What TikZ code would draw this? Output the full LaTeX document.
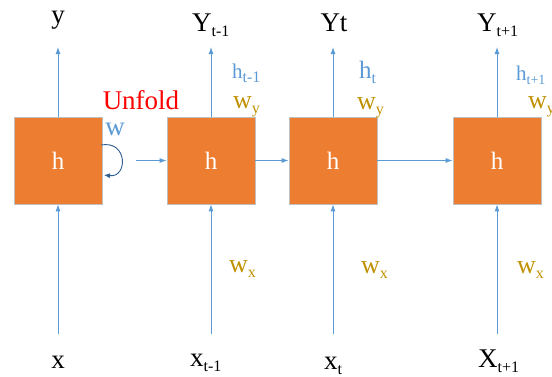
\documentclass[tikz,border=0pt]{standalone}
\usepackage{fontspec}
\setmainfont{Liberation Serif}
\usetikzlibrary{arrows.meta}
\definecolor{boxor}{HTML}{ED7D31}
\definecolor{arrb}{HTML}{5B9BD5}
\definecolor{wgold}{HTML}{BF9000}
\definecolor{loopb}{HTML}{2F5F8F}
\newcommand{\mysub}[2][16]{\raisebox{-0.45ex}{\fontsize{#1}{#1}\selectfont #2}}
\begin{document}
\begin{tikzpicture}[x=1pt,y=-1pt,
  cell/.style={draw=black!25,line width=0.8pt,fill=boxor,minimum width=88pt,minimum height=87pt,inner sep=0pt,text=white,font=\fontsize{25}{25}\selectfont},
  arr/.style={draw=arrb,line width=0.9pt,-{Latex[length=7pt,width=5pt]}},
  lbl/.style={inner sep=0pt,font=\fontsize{27}{27}\selectfont},
  hl/.style={lbl,text=arrb,font=\fontsize{21}{21}\selectfont},
  wl/.style={lbl,text=wgold,font=\fontsize{26}{26}\selectfont}]
\useasboundingbox (0,0) rectangle (552,376);
% cells
\node[cell] (b1) at (58,160.5) {h};
\node[cell] (b2) at (211,160.5) {h};
\node[cell] (b3) at (333,160.5) {h};
\node[cell] (b4) at (497,160.5) {h};
% top outputs
\coordinate (o1) at (58,47);
\coordinate (o2) at (211,47);
\coordinate (o3) at (333,47);
\coordinate (o4) at (497,47);
\draw[arr] (b1.north) -- (o1);
\draw[arr] (b2.north) -- (o2);
\draw[arr] (b3.north) -- (o3);
\draw[arr] (b4.north) -- (o4);
% bottom inputs
\coordinate (i1) at (58,334);
\coordinate (i2) at (211,334);
\coordinate (i3) at (333,334);
\coordinate (i4) at (497,334);
\draw[arr] (i1) -- (b1.south);
\draw[arr] (i2) -- (b2.south);
\draw[arr] (i3) -- (b3.south);
\draw[arr] (i4) -- (b4.south);
% horizontal
\coordinate (u0) at (136,160.5);
\draw[arr] (u0) -- (b2.west);
\draw[arr] (b2.east) -- (b3.west);
\draw[arr] (b3.east) -- (b4.west);
% self loop
\coordinate (l0) at (101,145);
\coordinate (l1) at (104,175);
\draw[draw=loopb,line width=0.9pt,-{Latex[length=6pt,width=5pt]}] (l0) .. controls (128,140) and (128,178) .. (l1);
% labels top
\node[lbl] (ty1) at (58,20) {y};
\node[lbl,anchor=base west] (ty2) at (192,31) {Y\mysub{t-1}};
\node[lbl] (ty3) at (334,23) {Yt};
\node[lbl,anchor=base west] (ty4) at (477,31) {Y\mysub{t+1}};
% h labels
\node[hl,anchor=base west] (h2) at (232,78) {h\mysub{t-1}};
\node[hl,anchor=base west,font=\fontsize{25}{25}\selectfont] (h3) at (359,78) {h\mysub[16]{t}};
\node[hl,anchor=base west] (h4) at (516,80) {h\mysub[14]{t+1}};
% wy labels
\node[wl,anchor=base west] (wy2) at (233,108) {w\mysub{y}};
\node[wl,anchor=base west] (wy3) at (357,109) {w\mysub{y}};
\node[wl,anchor=base west] (wy4) at (528,108) {w\mysub{y}};
% unfold, w
\node[lbl,text=red] (uf) at (141,100) {Unfold};
\node[lbl,text=arrb] (w0) at (115,129) {w};
% wx labels
\node[wl,anchor=base west] (wx2) at (229,272) {w\mysub{x}};
\node[wl,anchor=base west] (wx3) at (361,273) {w\mysub{x}};
\node[wl,anchor=base west] (wx4) at (517,273) {w\mysub{x}};
% bottom labels
\node[lbl] (bx1) at (58,362) {x};
\node[lbl,anchor=base west] (bx2) at (190,366) {x\mysub{t-1}};
\node[lbl,anchor=base west] (bx3) at (324,369) {x\mysub{t}};
\node[lbl,anchor=base west] (bx4) at (478,367) {X\mysub{t+1}};
\end{tikzpicture}
\end{document}
